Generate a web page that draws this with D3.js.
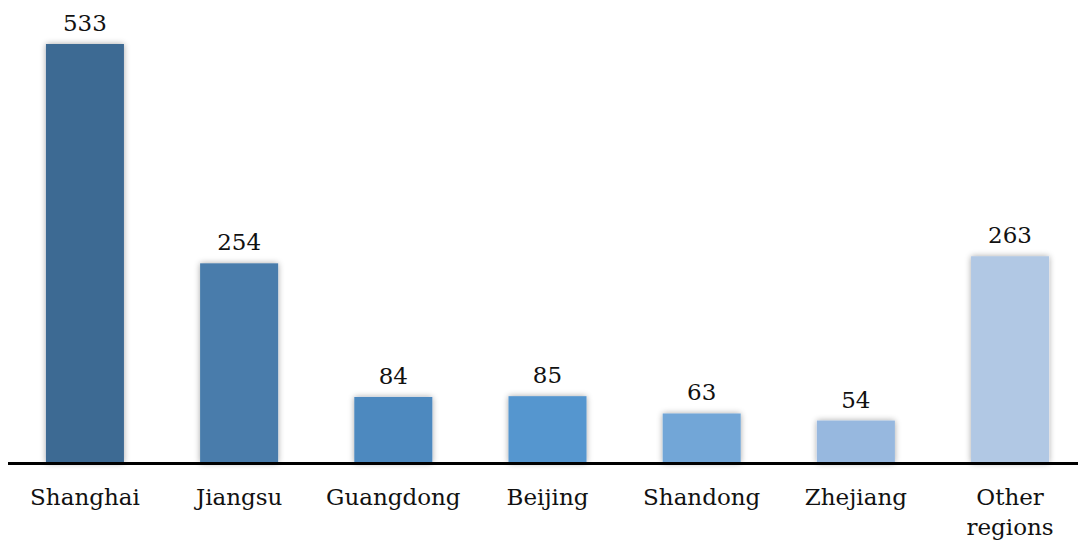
<!DOCTYPE html>
<html><head><meta charset="utf-8">
<script src="https://cdn.jsdelivr.net/npm/d3@7/dist/d3.min.js"></script>
<style>body{margin:0;background:#fff}svg{display:block}</style>
</head><body>
<svg id="c" width="1078" height="542"></svg>
<script>
const categories = ["Shanghai","Jiangsu","Guangdong","Beijing","Shandong","Zhejiang","Other regions"];
const values = [533,254,84,85,63,54,263];
const colors = ["#3e6a93","#487bab","#4e89bf","#5596cf","#72a6d7","#97b8df","#b1c8e4"];

const svg = d3.select("#c");
const base = 463;
const x = d3.scaleBand().domain(categories).range([8, 1087]).paddingInner(0.494).paddingOuter(0.246);
const y = d3.scaleLinear().domain([0, 533]).range([base, 44]);
const font = "'DejaVu Serif', Georgia, serif";

const defs = svg.append("defs");
const f = defs.append("filter").attr("id","sh").attr("x","-30%").attr("y","-30%").attr("width","160%").attr("height","160%");
f.append("feGaussianBlur").attr("in","SourceAlpha").attr("stdDeviation",3).attr("result","b");
f.append("feComponentTransfer").attr("in","b").attr("result","s").append("feFuncA").attr("type","linear").attr("slope",0.35);
const m = f.append("feMerge");
m.append("feMergeNode").attr("in","s");
m.append("feMergeNode").attr("in","SourceGraphic");

svg.selectAll("rect.bar").data(categories).join("rect").attr("class","bar")
  .attr("x", d => x(d)).attr("width", x.bandwidth())
  .attr("y", (d,i) => y(values[i])).attr("height", (d,i) => base - y(values[i]))
  .attr("fill", (d,i) => colors[i]).attr("filter","url(#sh)");

svg.selectAll("text.val").data(categories).join("text").attr("class","val")
  .attr("x", d => x(d) + x.bandwidth()/2)
  .attr("y", (d,i) => y(values[i]) - 13)
  .attr("text-anchor","middle").attr("font-family",font).attr("font-size",23).attr("fill","#111")
  .text((d,i) => values[i]);

const axis = d3.axisBottom(x).tickSize(0).tickPadding(0);
const g = svg.append("g").attr("transform",`translate(0,${base})`).call(axis);
g.select(".domain").remove();
g.append("line").attr("x1",8).attr("x2",1078).attr("y1",0.5).attr("y2",0.5).attr("stroke","#000").attr("stroke-width",3);
g.selectAll(".tick text").attr("font-family",font).attr("font-size",23).attr("fill","#111").attr("dy",null)
  .each(function(d){
    const t = d3.select(this); t.text(null);
    const parts = d === "Other regions" ? ["Other","regions"] : [d];
    parts.forEach((p,i)=> t.append("tspan").attr("x",0).attr("y",42 + i*30).text(p));
  });
</script>
</body></html>
